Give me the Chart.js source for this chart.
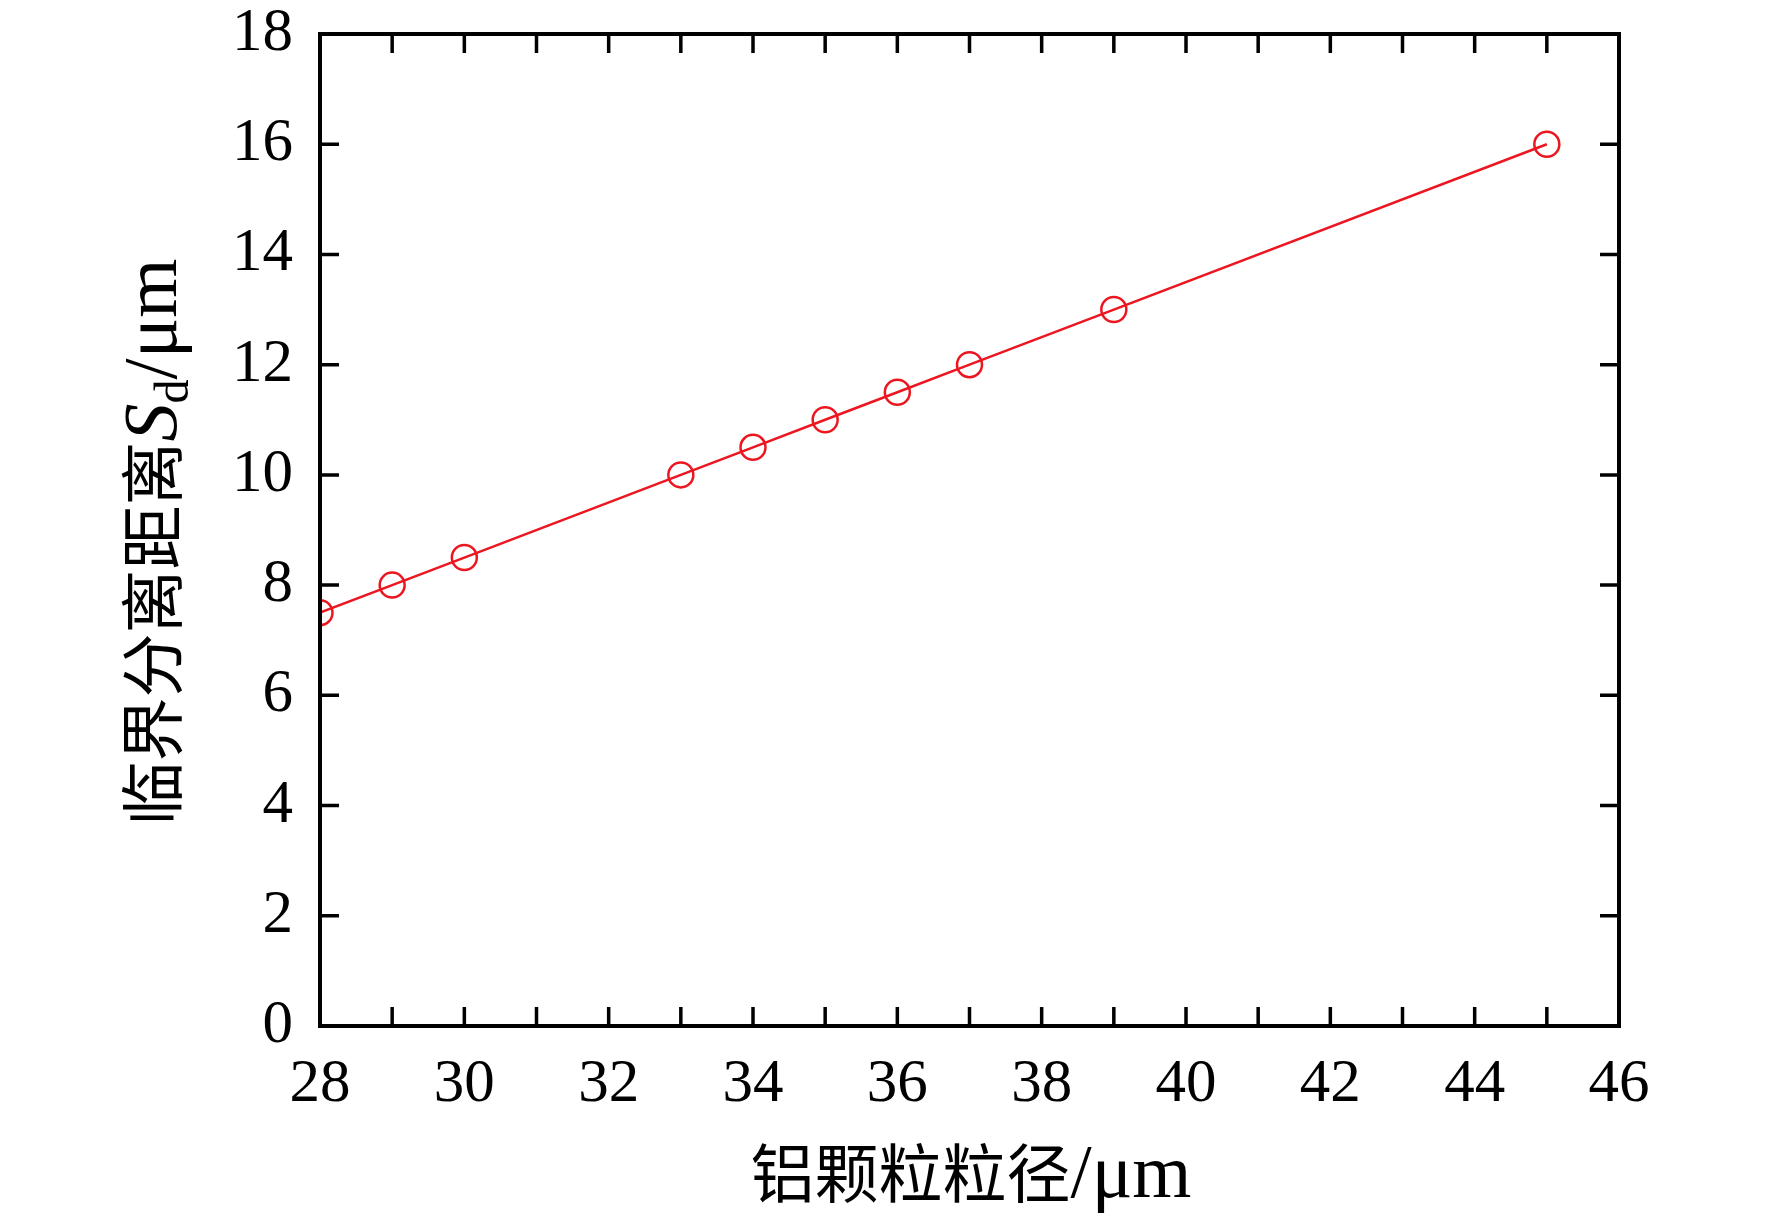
<!DOCTYPE html>
<html>
<head>
<meta charset="utf-8">
<script src="https://cdn.jsdelivr.net/npm/chart.js@4.4.1/dist/chart.umd.min.js"></script>
<style>
  body { margin: 0; background: #fff; }
  canvas { display: block; }
</style>
</head>
<body>
<canvas id="chart" width="1772" height="1220"></canvas>
<script>
// 数据：铝颗粒粒径 与 临界分离距离
const diameters = [28, 29, 30, 33, 34, 35, 36, 37, 39, 45];
const distances = [7.5, 8, 8.5, 10, 10.5, 11, 11.5, 12, 13, 16];
const xRange = [28, 46];
const yRange = [0, 18];
const xTitle = ['铝颗粒粒径', '/μm'];
const yTitle = ['临界分离距离', 'S', 'd', '/μm'];

const RED = 'rgb(236, 22, 32)';
const SERIF = '"Liberation Serif", "Times New Roman", serif';
const CJK = '"Noto Sans CJK SC", sans-serif';

// 画外框、向内的刻度线和坐标轴标题
const framePlugin = {
    id: 'frame',
    afterDatasetsDraw(chart) {
        const { ctx, chartArea: a, scales: { x, y } } = chart;
        ctx.save();
        ctx.strokeStyle = '#000';
        ctx.lineWidth = 4;
        ctx.strokeRect(a.left, a.top, a.right - a.left, a.bottom - a.top);

        ctx.lineWidth = 3.5;
        ctx.beginPath();
        x.ticks.forEach(t => {
            const px = x.getPixelForValue(t.value);
            if (px <= a.left + 1 || px >= a.right - 1) return;
            ctx.moveTo(px, a.bottom); ctx.lineTo(px, a.bottom - 19);
            ctx.moveTo(px, a.top); ctx.lineTo(px, a.top + 19);
        });
        y.ticks.forEach(t => {
            const py = y.getPixelForValue(t.value);
            if (py <= a.top + 1 || py >= a.bottom - 1) return;
            ctx.moveTo(a.left, py); ctx.lineTo(a.left + 19, py);
            ctx.moveTo(a.right, py); ctx.lineTo(a.right - 19, py);
        });
        ctx.stroke();

        ctx.fillStyle = '#000';
        ctx.textBaseline = 'alphabetic';
        ctx.textAlign = 'left';

        // x 轴标题
        const cjkFont = '64px ' + CJK;
        const latFont = '76px ' + SERIF;
        ctx.font = cjkFont;
        const w1 = ctx.measureText(xTitle[0]).width;
        ctx.font = latFont;
        const w2 = ctx.measureText(xTitle[1]).width;
        const sx = 971 - (w1 + w2) / 2;
        ctx.font = cjkFont;
        ctx.fillText(xTitle[0], sx, 1197);
        ctx.font = latFont;
        ctx.fillText(xTitle[1], sx + w1, 1197);

        // y 轴标题（旋转，S 斜体，d 下标）
        const parts = [
            { text: yTitle[0], font: cjkFont, dy: 0 },
            { text: yTitle[1], font: 'italic 76px ' + SERIF, dy: 0 },
            { text: yTitle[2], font: '48px ' + SERIF, dy: 12 },
            { text: yTitle[3], font: latFont, dy: 0 }
        ];
        let total = 0;
        parts.forEach(p => { ctx.font = p.font; p.w = ctx.measureText(p.text).width; total += p.w; });
        ctx.translate(176, 542);
        ctx.rotate(-Math.PI / 2);
        let cx = -total / 2;
        parts.forEach(p => {
            ctx.font = p.font;
            ctx.fillText(p.text, cx, p.dy);
            cx += p.w;
        });
        ctx.restore();
    }
};

new Chart(document.getElementById('chart'), {
    type: 'line',
    data: {
        datasets: [{
            data: diameters.map((d, i) => ({ x: d, y: distances[i] })),
            borderColor: RED,
            borderWidth: 2.5,
            pointStyle: 'circle',
            pointRadius: 12.5,
            pointBorderWidth: 2.5,
            pointBorderColor: RED,
            pointBackgroundColor: 'rgba(0,0,0,0)',
            tension: 0,
            clip: 0
        }]
    },
    options: {
        responsive: false,
        devicePixelRatio: 1,
        animation: false,
        layout: { padding: { left: 0, top: 34, right: 153, bottom: 0 } },
        plugins: { legend: { display: false }, tooltip: { enabled: false } },
        scales: {
            x: {
                type: 'linear',
                min: xRange[0],
                max: xRange[1],
                grid: { display: false },
                border: { display: false },
                ticks: {
                    stepSize: 1,
                    autoSkip: false,
                    maxRotation: 0,
                    padding: 14,
                    color: '#000',
                    font: { family: SERIF, size: 61 },
                    callback: v => (v % 2 === 0 ? String(v) : '')
                },
                afterFit: s => { s.height = 194; s.paddingLeft = 0; s.paddingRight = 0; }
            },
            y: {
                min: yRange[0],
                max: yRange[1],
                grid: { display: false },
                border: { display: false },
                ticks: {
                    stepSize: 2,
                    padding: 19,
                    color: '#000',
                    font: { family: SERIF, size: 61 }
                },
                afterFit: s => { s.width = 320; s.paddingTop = 0; s.paddingBottom = 0; }
            }
        }
    },
    plugins: [framePlugin]
});
</script>
</body>
</html>
